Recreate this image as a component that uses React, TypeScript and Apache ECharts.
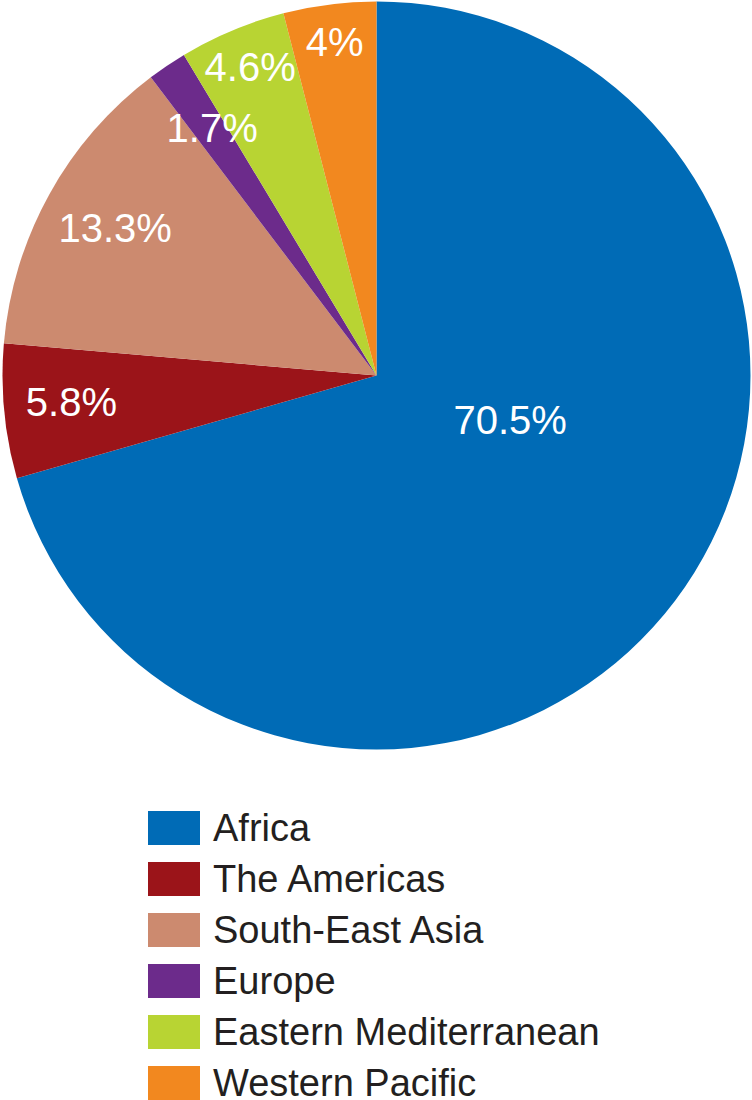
import React, { useEffect, useRef } from "react";
import * as echarts from "echarts";

const categories = [
  "Africa",
  "The Americas",
  "South-East Asia",
  "Europe",
  "Eastern Mediterranean",
  "Western Pacific",
];
const values = [70.5, 5.8, 13.3, 1.7, 4.6, 4];
const colors = ["#006bb6", "#9b1419", "#cc8a6f", "#6c2b8b", "#b8d433", "#f2881f"];
// label nudges from the default inside position (dx, dy)
const labelShift = [
  [-18, -70],
  [-116, 8],
  [-95, -56],
  [-58, -90],
  [-53, -133],
  [-18, -145],
];

export default function App() {
  const ref = useRef<HTMLDivElement>(null);
  useEffect(() => {
    document.body.style.margin = "0";
    const chart = echarts.init(ref.current!, null, { renderer: "svg" });
    chart.setOption({
      animation: false,
      legend: {
        orient: "vertical",
        left: 148,
        top: 809,
        height: 360,
        padding: 0,
        itemWidth: 52,
        itemHeight: 34,
        itemGap: 13,
        icon: "rect",
        selectedMode: false,
        textStyle: {
          fontFamily: "Liberation Sans",
          fontSize: 38,
          color: "#231f20",
          padding: [0, 0, 0, 8],
        },
        data: categories,
      },
      series: [
        {
          type: "pie",
          center: [376.5, 375.5],
          radius: [0, 374],
          startAngle: 90,
          clockwise: true,
          silent: true,
          label: {
            show: true,
            position: "inside",
            color: "#ffffff",
            fontFamily: "Liberation Sans",
            fontSize: 40,
            formatter: (p: any) => `${values[p.dataIndex]}%`,
          },
          labelLine: { show: false },
          labelLayout: (p: any) => ({
            dx: labelShift[p.dataIndex][0],
            dy: labelShift[p.dataIndex][1],
          }),
          itemStyle: { borderWidth: 0 },
          data: categories.map((name, i) => ({
            name,
            value: values[i],
            itemStyle: { color: colors[i] },
          })),
        },
      ],
    });
    return () => chart.dispose();
  }, []);
  return <div ref={ref} style={{ width: 752, height: 1100 }} />;
}
